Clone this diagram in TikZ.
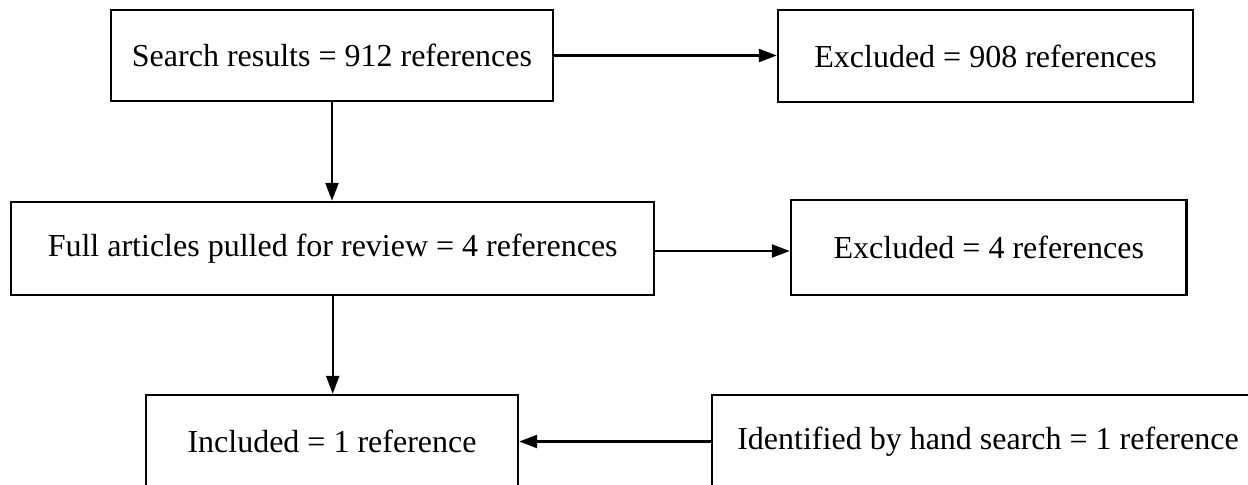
\documentclass[tikz,border=0pt]{standalone}
\usepackage{fontspec}
\setmainfont{Liberation Serif}
\usetikzlibrary{arrows}
\usetikzlibrary{arrows.meta}

\begin{document}
\begin{tikzpicture}[x=0.5pt,y=-0.5pt,
        line width=1.2pt,
        ->,-{Triangle[length=9pt,width=6.5pt]},
        stageNode/.style = {shape=rectangle,draw=black,line width=1.2pt,font=\fontsize{16}{19}\selectfont,inner sep=0pt},
        topNode/.style = {stageNode,minimum width=221pt,minimum height=45.5pt},
        sideNode/.style = {stageNode,minimum width=207.5pt,minimum height=46pt}
        ]
        \useasboundingbox (0,0) rectangle (1248,484); % keep the cut-off bottom row
        \node[topNode] (search) at (332,55.5) {Search results = 912 references};
        \node[sideNode] (excl1) at (985.5,56) {Excluded = 908 references};
        \node[stageNode,minimum width=321.5pt,minimum height=46.5pt] (full) at (332.7,248.5) {Full articles pulled for review = 4 references};
        \node[stageNode,minimum width=197.75pt,minimum height=47.5pt] (excl2) at (988.75,247.5) {Excluded = 4 references};
        \node[stageNode,minimum width=186pt,minimum height=46.5pt] (incl) at (332,441.5) {Included = 1 reference};
        \node[stageNode,minimum width=276pt,minimum height=46.5pt] (hand) at (988,441.5) {Identified by hand search = 1 reference};
        \draw (search.east) -- (search.east -| excl1.west);
        \draw (search.south) -- (search.south |- full.north);
        \draw (full.east) ++(0,2.5) coordinate (fullout) -- (fullout -| excl2.west);
        \draw (full.south) -- (full.south |- incl.north);
        \draw (hand.west) -- (hand.west -| incl.east);
    \end{tikzpicture}
\end{document}
